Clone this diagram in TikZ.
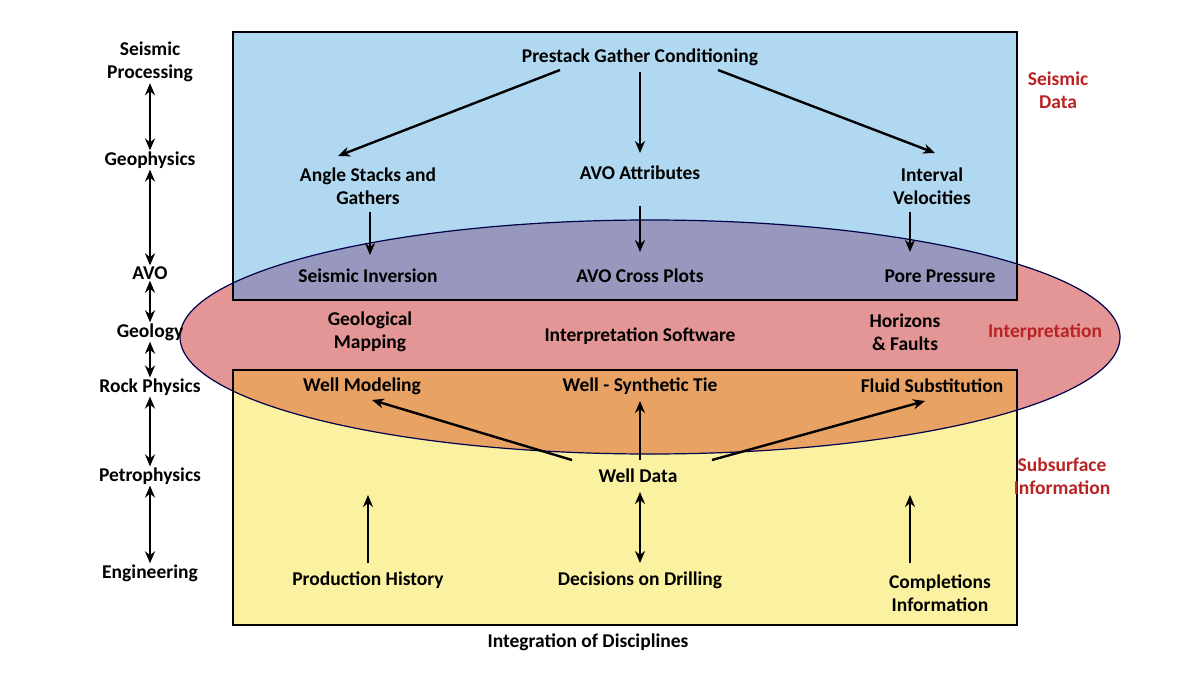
\documentclass[tikz,border=0pt]{standalone}
\usepackage{fontspec}
\setmainfont{Carlito}
\usetikzlibrary{arrows.meta}
\definecolor{bluebox}{RGB}{176,216,240}
\definecolor{yelbox}{RGB}{250,242,160}
\definecolor{ellpink}{RGB}{228,150,150}
\definecolor{ellpur}{RGB}{152,152,190}
\definecolor{ellor}{RGB}{232,162,100}
\definecolor{lab}{RGB}{185,35,35}
\begin{document}
\begin{tikzpicture}[x=1pt,y=-1pt,
  t/.style={font=\bfseries\fontsize{19.5}{23}\selectfont,align=center,inner sep=1pt},
  r/.style={t,text=lab},
  ar/.style={-{Stealth[length=12pt,width=10pt]},line width=2.4pt},
  dar/.style={{Stealth[length=12pt,width=10pt]}-{Stealth[length=12pt,width=10pt]},line width=2.4pt}]
\useasboundingbox (0,0) rectangle (1200,680);
\fill[white] (0,0) rectangle (1200,680);
\fill[bluebox] (233,32) rectangle (1017,300);
\fill[yelbox] (233,370) rectangle (1017,625);
\fill[ellpink] (650,337) ellipse [x radius=470,y radius=117];
\begin{scope}
\clip (233,32) rectangle (1017,300);
\fill[ellpur] (650,337) ellipse [x radius=470,y radius=117];
\end{scope}
\begin{scope}
\clip (233,370) rectangle (1017,625);
\fill[ellor] (650,337) ellipse [x radius=470,y radius=117];
\end{scope}
\draw[line width=1.2pt] (233,32) rectangle (1017,300);
\draw[line width=1.2pt] (233,370) rectangle (1017,625);
\draw[draw=black!70!blue,line width=1.2pt] (650,337) ellipse [x radius=470,y radius=117];
% left column
\node[t] (sp) at (150,62) {Seismic\\Processing};
\node[t] (gp) at (150,160) {Geophysics};
\node[t] (avo) at (150,273) {AVO};
\node[t] (geo) at (150,332) {Geology};
\node[t] (rp) at (150,387) {Rock Physics};
\node[t] (pp) at (150,476) {Petrophysics};
\node[t] (en) at (150,573) {Engineering};
\draw[dar] (sp) -- (gp);
\draw[dar] (gp) -- (avo);
\draw[dar] (avo) -- (geo);
\draw[dar] (geo) -- (rp);
\draw[dar] (rp) -- (pp);
\draw[dar] (pp) -- (en);
% top
\node[t] (pg) at (640,57) {Prestack Gather Conditioning};
\node[t] (as) at (368,186) {Angle Stacks and\\Gathers};
\node[t] (aa) at (640,173) {AVO Attributes};
\node[t] (iv) at (932,186) {Interval\\Velocities};
\draw[ar] (560,70) -- (338,156);
\draw[ar] (640,72) -- (640,153);
\draw[ar] (718,70) -- (935,153);
\node[t] (si) at (368,276) {Seismic Inversion};
\node[t] (ac) at (640,276) {AVO Cross Plots};
\node[t] (po) at (940,276) {Pore Pressure};
\draw[ar] (370,212) -- (370,255);
\draw[ar] (640,206) -- (640,252);
\draw[ar] (910,212) -- (910,252);
% middle
\node[t] (gm) at (370,332) {Geological\\Mapping};
\node[t] (is) at (640,336) {Interpretation Software};
\node[t] (hf) at (905,332) {Horizons\\\& Faults};
\node[t] (wm) at (362,386) {Well Modeling};
\node[t] (ws) at (640,386) {Well - Synthetic Tie};
\node[t] (fs) at (932,386) {Fluid Substitution};
\node[t] (wd) at (638,476) {Well Data};
\draw[ar] (572,460) -- (372,400);
\draw[ar] (640,460) -- (640,401);
\draw[ar] (712,460) -- (925,401);
% bottom
\node[t] (ph) at (368,580) {Production History};
\node[t] (dd) at (640,580) {Decisions on Drilling};
\node[t] (ci) at (940,593) {Completions\\Information};
\draw[ar] (368,563) -- (368,495);
\draw[dar] (640,492) -- (640,563);
\draw[ar] (910,563) -- (910,495);
% right labels
\node[r] (sd) at (1058,90) {Seismic\\Data};
\node[r] (ip) at (1045,332) {Interpretation};
\node[r] (ss) at (1062,476) {Subsurface\\Information};
\node[t] (id) at (588,642) {Integration of Disciplines};
\end{tikzpicture}
\end{document}
